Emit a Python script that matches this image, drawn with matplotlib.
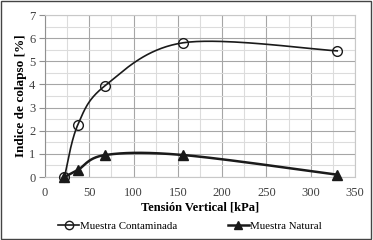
import numpy as np
import matplotlib
matplotlib.use("Agg")
import matplotlib.pyplot as plt
from matplotlib.patches import Rectangle
from matplotlib.lines import Line2D

plt.rcParams['font.family'] = ['Liberation Serif', 'DejaVu Serif']

x_cont = [22, 37, 68, 156, 330]
y_cont = [0.0, 2.25, 3.95, 5.8, 5.45]
x_nat = [22, 37, 68, 156, 330]
y_nat = [0.0, 0.3, 0.95, 0.95, 0.1]


def smooth(xs, ys, n=40):
    P = np.column_stack([xs, ys]).astype(float)
    m = len(P)
    out = []
    for i in range(m - 1):
        p0 = P[i - 1] if i > 0 else P[i]
        p1 = P[i]
        p2 = P[i + 1]
        p3 = P[i + 2] if i + 2 < m else P[i + 1]
        c1 = p1 + (p2 - p0) / 6.0
        c2 = p2 - (p3 - p1) / 6.0
        t = np.linspace(0, 1, n)[:, None]
        seg = ((1 - t) ** 3) * p1 + 3 * t * (1 - t) ** 2 * c1 + 3 * t ** 2 * (1 - t) * c2 + t ** 3 * p2
        out.append(seg if i == 0 else seg[1:])
    s = np.vstack(out)
    return s[:, 0], s[:, 1]


fig = plt.figure(figsize=(3.73, 2.40), dpi=100)
fig.patches.append(Rectangle((0.004, 0.006), 0.99, 0.988, transform=fig.transFigure,
                             fill=False, edgecolor='#444444', linewidth=1.0))

ax = fig.add_axes([0.1206, 0.2625, 0.831, 0.675])
ax.set_xlim(0, 350)
ax.set_ylim(0, 7)
ax.set_xticks(np.arange(0, 351, 50))
ax.set_yticks(np.arange(0, 8, 1))
ax.set_xticks(np.arange(25, 351, 50), minor=True)
ax.set_yticks(np.arange(0.5, 7, 1), minor=True)
ax.grid(True, which='major', color='#a6a6a6', linewidth=0.8)
ax.grid(True, which='minor', color='#dcdcdc', linewidth=0.8)
ax.set_axisbelow(True)
for s in ['top', 'right', 'bottom']:
    ax.spines[s].set_color('#c8c8c8')
    ax.spines[s].set_linewidth(0.8)
ax.spines['left'].set_color('#909090')
ax.tick_params(which='minor', length=0)
ax.tick_params(axis='y', which='major', length=4, color='#909090', labelsize=9, labelcolor='#404040', pad=3)
ax.tick_params(axis='x', which='major', length=0, labelsize=9, labelcolor='#404040', pad=7)

sx, sy = smooth(x_cont, y_cont)
ax.plot(sx, sy, color='#1a1a1a', linewidth=1.2, zorder=3)
ax.plot(x_cont, y_cont, linestyle='none', marker='o', markersize=7, markerfacecolor='none',
        markeredgecolor='#1a1a1a', markeredgewidth=1.0, zorder=4, clip_on=False)
nx, ny = smooth(x_nat, y_nat)
ax.plot(nx, ny, color='#1a1a1a', linewidth=1.8, zorder=3)
ax.plot(x_nat, y_nat, linestyle='none', marker='^', markersize=7, color='#1a1a1a', zorder=4, clip_on=False)

ax.set_xlabel('Tensión Vertical [kPa]', fontsize=9, fontweight='bold')
ax.xaxis.set_label_coords(0.5, -0.15)
ax.set_ylabel('Indice de colapso [%]', fontsize=9.5, fontweight='bold')
ax.yaxis.set_label_coords(-0.058, 0.5)

h1 = Line2D([], [], color='#1a1a1a', linewidth=1.2, marker='o', markersize=6,
            markerfacecolor='none', markeredgecolor='#1a1a1a')
h2 = Line2D([], [], color='#1a1a1a', linewidth=1.8, marker='^', markersize=6)
fig.legend([h1, h2], ['Muestra Contaminada', 'Muestra Natural'], loc='center',
           bbox_to_anchor=(0.509, 0.058), ncol=2, frameon=False, fontsize=7.8,
           handlelength=2.0, handletextpad=0.1, columnspacing=4.6, borderpad=0)

fig.savefig('out.png', dpi=100)
